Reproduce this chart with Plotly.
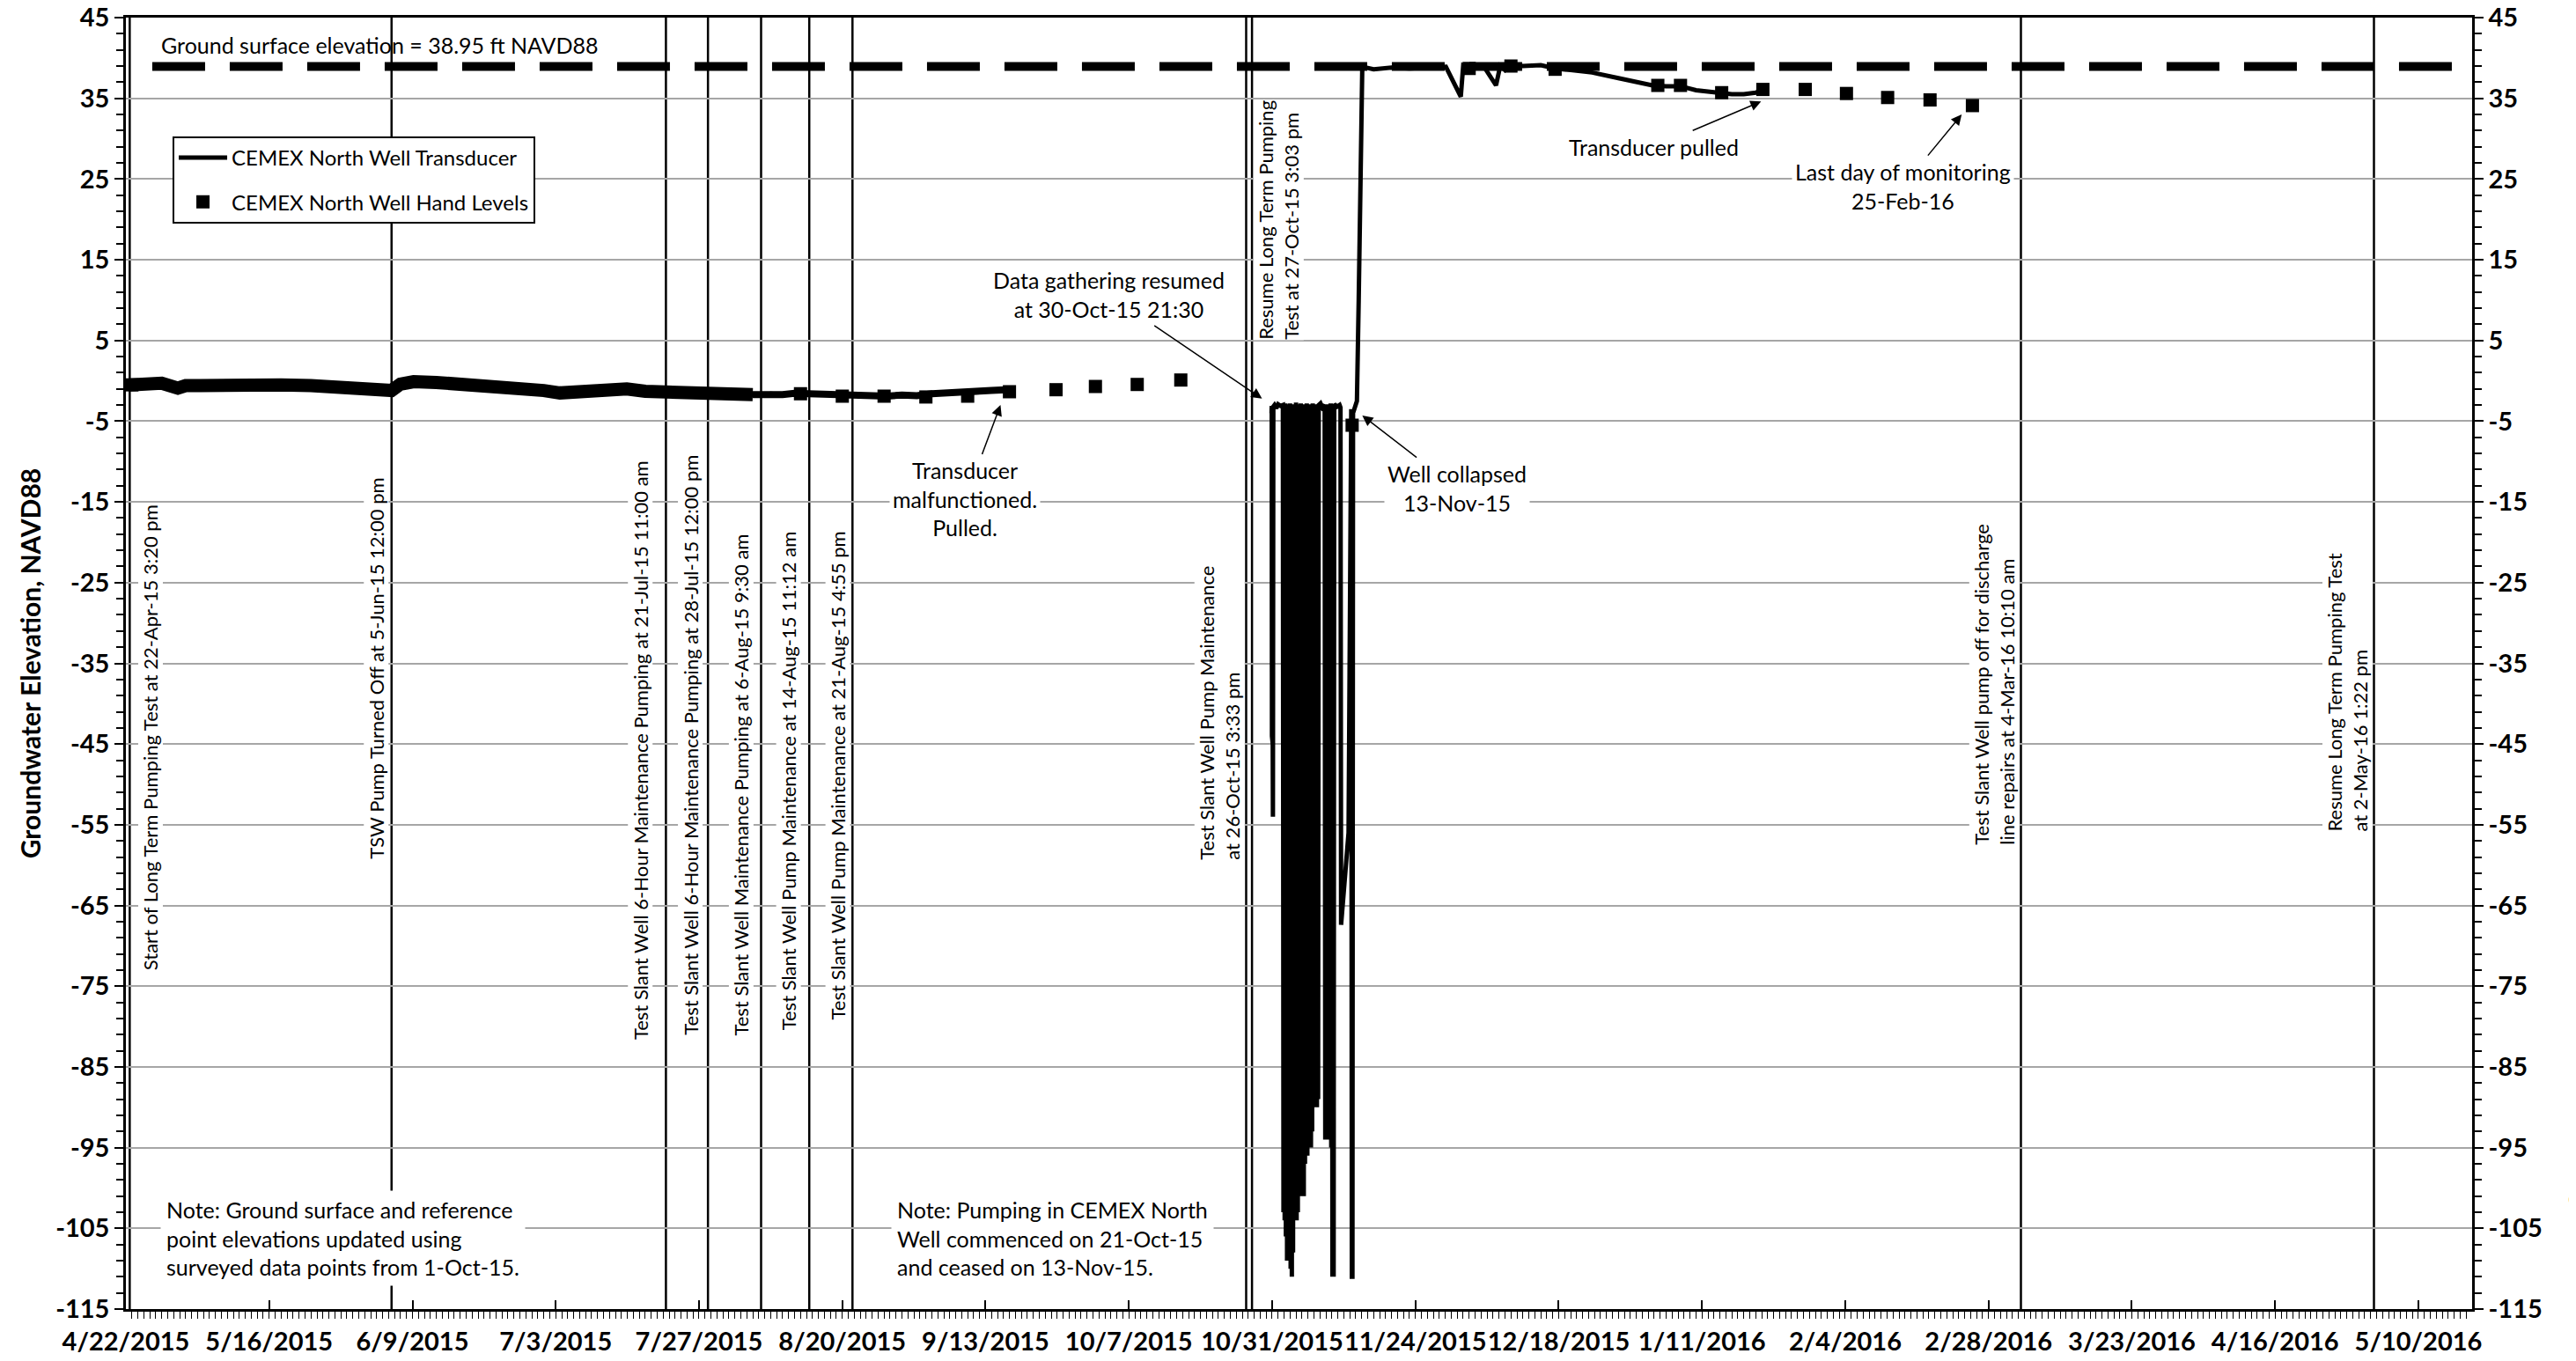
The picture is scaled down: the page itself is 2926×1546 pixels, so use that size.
import plotly.graph_objects as go
import pandas as pd

# ---------------- data (days are counted from 22-Apr-2015 00:00) ----------------
BASE = pd.Timestamp("2015-04-22 00:00")

# CEMEX North Well transducer, period 1 (thick noisy band)
tr1a_days = [0.64, 3, 6, 8.7, 10, 12.5, 16, 20, 23, 26, 31, 36, 40.7, 44.5, 46, 48.2, 52, 56,
             59.6, 63, 67, 70, 72.7, 75, 78, 80.2, 83.9, 87, 90.5, 94, 97.1, 101, 105]
tr1a_vals = [-0.5, -0.4, -0.3, -0.9, -0.6, -0.6, -0.5, -0.4, -0.25, -0.5, -0.6, -0.7, -0.9, -1.2,
             -0.4, -0.1, -0.2, -0.35, -0.45, -0.6, -0.8, -1.2, -1.5, -1.4, -1.0, -0.9, -1.0, -1.3,
             -1.45, -1.5, -1.5, -1.6, -1.7]
tr1b_days = [105, 106.6, 108, 110, 112, 114.1, 117, 120.6, 123, 125, 127.5, 130, 132.5, 135,
             137.5, 140.3, 143, 145, 147.4]
tr1b_vals = [-1.7, -1.75, -1.6, -1.7, -1.55, -1.6, -1.7, -1.9, -1.75, -1.8, -1.9, -1.75, -1.85,
             -1.6, -1.55, -1.45, -1.4, -1.2, -1.1]

# period 2: pumping cycles after data gathering resumed (30-Oct-15 21:30)
tr2_days = [191.90, 191.93, 191.97, 192.10, 192.13, 192.20, 192.40, 192.70, 193.00, 193.40, 193.80,
            193.90, 194.00, 194.10, 194.20, 194.30, 194.40, 194.50, 194.60, 194.70, 194.80,
            194.90, 195.00, 195.10, 195.20, 195.30, 195.40, 195.50, 195.60, 195.70, 195.80,
            195.90, 196.00, 196.10, 196.20, 196.30, 196.40, 196.50, 196.60, 196.70, 196.80,
            196.90, 197.00, 197.10, 197.20, 197.30, 197.40, 197.50, 197.60, 197.70, 197.80,
            197.90, 198.00, 198.10, 198.20, 198.30, 198.40, 198.50, 198.60, 198.70, 198.80,
            198.90, 199.00, 199.10, 199.20, 199.30, 199.40, 199.50, 199.60, 199.70, 199.80,
            200.10, 200.40, 200.80,
            200.90, 201.00, 201.10, 201.20, 201.30, 201.40, 201.50, 201.60, 201.70, 201.80,
            201.90, 202.00, 202.10, 202.20, 202.30, 202.40, 202.45, 202.55,
            202.90, 203.30, 203.45, 203.55, 204.80, 205.00, 205.15, 205.25, 205.35, 205.45,
            205.55, 205.90, 206.20,
            206.50, 206.80, 207.10, 209, 212, 215, 218, 221.1, 223.6, 224.0, 225, 226, 227.5,
            229.5, 230.2, 231, 232, 234, 237, 239.4, 242, 245.6, 250, 255.7, 258, 260.4, 263,
            266.8, 269, 271, 273, 274.2]
tr2_vals = [-4.0, -3.1, -44.0, -45.0, -54.0, -3.2, -3.0, -3.4, -2.9, -3.1, -3.0,
            -103, -3.0, -104, -2.8, -106, -3.2, -109, -2.9, -109, -3.1,
            -108, -2.8, -110, -3.0, -111, -3.3, -108, -2.9, -104, -3.0,
            -104, -2.7, -104, -3.1, -103, -2.9, -101, -3.2, -101, -2.8,
            -101, -3.0, -101, -3.1, -101, -2.9, -97, -3.0, -96, -2.8,
            -96, -3.2, -95, -2.9, -95, -3.0, -95, -3.1, -93, -2.8,
            -90, -3.0, -90, -3.2, -90, -2.9, -90, -3.0, -89, -3.0,
            -2.8, -3.3, -3.0,
            -94, -3.0, -94, -2.9, -94, -3.1, -94, -3.0, -94, -2.8,
            -95, -3.0, -111, -3.1, -111, -2.9, -111, -3.0,
            -3.2, -3.0, -3.3, -67.4, -56.0, -30.0, -4.5, -3.5, -111, -111,
            -4.0, -3.0, -2.5,
            10, 30, 38.9, 38.6, 38.8, 38.7, 38.8, 38.9, 35.2, 39.0, 38.5, 39.0, 38.9,
            36.6, 39.0, 38.5, 39.2, 39.0, 39.1, 38.7, 38.5, 38.2, 37.5, 36.6, 36.5, 36.5, 36.0,
            35.6, 35.5, 35.5, 35.7, 36.1]

# CEMEX North Well hand levels
hand_days = [1, 113, 120, 127, 134, 141, 148, 155.8, 162.4, 169.4, 176.7, 205.4,
             225, 232, 239.4, 256.6, 260.4, 267.3, 274.2, 281.3, 288.2, 295.1, 302.2, 309.3]
hand_vals = [-0.5, -1.6, -1.9, -1.9, -2.0, -1.9, -1.35, -1.1, -0.7, -0.45, 0.1, -5.5,
             38.7, 39.0, 38.6, 36.6, 36.6, 35.7, 36.1, 36.1, 35.6, 35.1, 34.8, 34.1]

# ground surface elevation
ground_elev = 38.95
ground_dates = ["2015-04-26 10:00", "2016-05-19 00:00"]

# event markers (vertical lines)
event_times = ["2015-04-22 15:20", "2015-06-05 12:00", "2015-07-21 11:00", "2015-07-28 12:00",
               "2015-08-06 09:30", "2015-08-14 11:12", "2015-08-21 16:55", "2015-10-26 15:33",
               "2015-10-27 15:03", "2016-03-04 10:10", "2016-05-02 13:22"]
event_labels = [
    "Start of Long Term Pumping Test at 22-Apr-15 3:20 pm",
    "TSW Pump Turned Off at 5-Jun-15 12:00 pm",
    "Test Slant Well 6-Hour Maintenance Pumping at 21-Jul-15 11:00 am",
    "Test Slant Well 6-Hour Maintenance Pumping at 28-Jul-15 12:00 pm",
    "Test Slant Well Maintenance Pumping at 6-Aug-15 9:30 am",
    "Test Slant Well Pump Maintenance at 14-Aug-15 11:12 am",
    "Test Slant Well Pump Maintenance at 21-Aug-15 4:55 pm",
    "Test Slant Well Pump Maintenance<br>at 26-Oct-15 3:33 pm",
    "Resume Long Term Pumping<br>Test at 27-Oct-15 3:03 pm",
    "Test Slant Well pump off for discharge<br>line repairs at 4-Mar-16 10:10 am",
    "Resume Long Term Pumping Test<br>at 2-May-16 1:22 pm",
]

x_range = ["2015-04-22", "2016-05-19"]
y_range = [-115, 45]
y_tickvals = [-115, -105, -95, -85, -75, -65, -55, -45, -35, -25, -15, -5, 5, 15, 25, 35, 45]
y_ticktext = ["-115", "-105", "-95", "-85", "-75", "-65", "-55", "-45", "-35", "-25", "-15",
              "-5", "5", "15", "25", "35", "45"]


def when(days):
    return [BASE + pd.Timedelta(days=d) for d in days]


FONT = "Lato, Carlito, Calibri, sans-serif"

fig = go.Figure()

# ground surface dashed line (on right axis, identical scale)
fig.add_trace(go.Scatter(x=pd.to_datetime(ground_dates), y=[ground_elev, ground_elev],
                         mode="lines", yaxis="y2", showlegend=False, hoverinfo="skip",
                         line=dict(color="black", width=10, dash="60px,28px")))

# transducer (full)
tx = when(tr1a_days) + when(tr1b_days[1:]) + [None] + when(tr2_days)
ty = tr1a_vals + tr1b_vals[1:] + [None] + tr2_vals
fig.add_trace(go.Scatter(x=tx, y=ty, mode="lines", name="CEMEX North Well Transducer",
                         legendgroup="a", line=dict(color="black", width=5)))
# noisy band thickness of period 1
fig.add_trace(go.Scatter(x=when(tr1a_days), y=tr1a_vals, mode="lines", showlegend=False,
                         hoverinfo="skip", line=dict(color="black", width=15)))
fig.add_trace(go.Scatter(x=when(tr1b_days), y=tr1b_vals, mode="lines", showlegend=False,
                         hoverinfo="skip", line=dict(color="black", width=8)))

# hand levels
fig.add_trace(go.Scatter(x=when(hand_days), y=hand_vals, mode="markers",
                         name="CEMEX North Well Hand Levels", legendgroup="b",
                         marker=dict(symbol="square", size=15, color="black")))

# event lines
shapes = []
for t in event_times:
    shapes.append(dict(type="line", xref="x", yref="paper", x0=t, x1=t, y0=0, y1=1,
                       layer="below", line=dict(color="black", width=2.5)))

annotations = []
# event labels: (xshift px, y value, yanchor)
label_pos = [(24, -44.2, "middle"), (-18, -35.6, "middle"), (-29, -81.7, "bottom"),
             (-20, -81.2, "bottom"), (-23, -81.2, "bottom"), (-24, -80.6, "bottom"),
             (-17, -79.3, "bottom"), (-30, -59.4, "bottom"), (30, 5.0, "bottom"),
             (-30, -57.6, "bottom"), (-30, -56.0, "bottom")]
for t, txt, (xs, yv, ya) in zip(event_times, event_labels, label_pos):
    annotations.append(dict(x=t, y=yv, xref="x", yref="y", text=txt, showarrow=False,
                            textangle=-90, xshift=xs, yanchor=ya, xanchor="center",
                            align="left", bgcolor="white", borderpad=0,
                            font=dict(family=FONT, size=22, color="black")))


def arrow_note(text, head_day, head_v, text_day, text_v):
    return dict(x=BASE + pd.Timedelta(days=head_day), y=head_v, xref="x", yref="y",
                ax=BASE + pd.Timedelta(days=text_day), ay=text_v, axref="x", ayref="y",
                text=text, showarrow=True, arrowhead=2, arrowsize=1.6, arrowwidth=1.5,
                arrowcolor="black", bgcolor="white", borderpad=3,
                font=dict(family=FONT, size=25, color="black"))


annotations += [
    arrow_note("Transducer<br>malfunctioned.<br>Pulled.", 146.5, -3.0, 140.6, -14.65),
    arrow_note("Data gathering resumed<br>at 30-Oct-15 21:30", 190.3, -2.2, 164.65, 10.65),
    arrow_note("Well collapsed<br>13-Nov-15", 207.1, -4.3, 222.9, -13.3),
    arrow_note("Transducer pulled", 273.9, 34.6, 256.0, 29.0),
    arrow_note("Last day of monitoring<br>25-Feb-16", 307.5, 33.0, 297.6, 24.1),
]

# plain text notes
annotations += [
    dict(x=BASE + pd.Timedelta(days=5.6), y=41.65, xref="x", yref="y", xanchor="left",
         text="Ground surface elevation = 38.95 ft NAVD88", showarrow=False,
         font=dict(family=FONT, size=25, color="black")),
    dict(x=BASE + pd.Timedelta(days=5.75), y=-106.25, xref="x", yref="y", xanchor="left",
         text="Note: Ground surface and reference<br>point elevations updated using<br>surveyed data points from 1-Oct-15.",
         align="left", showarrow=False, bgcolor="white", borderpad=6,
         font=dict(family=FONT, size=25, color="black")),
    dict(x=BASE + pd.Timedelta(days=128.1), y=-106.25, xref="x", yref="y", xanchor="left",
         text="Note: Pumping in CEMEX North<br>Well commenced on 21-Oct-15<br>and ceased on 13-Nov-15.",
         align="left", showarrow=False, bgcolor="white", borderpad=6,
         font=dict(family=FONT, size=25, color="black")),
    dict(x=-0.041, y=0.5, xref="paper", yref="paper", text="Groundwater Elevation, NAVD88",
         textangle=-90, showarrow=False, xanchor="center", yanchor="middle",
         font=dict(family=FONT, size=30, color="black", weight="bold")),
    dict(x=1.0473, y=0.0559, xref="paper", yref="paper", text="Figure 2-11",
         textangle=90, showarrow=False, xanchor="center", yanchor="middle",
         font=dict(family=FONT, size=28, color="black", weight="bold")),
]

tickfont = dict(family=FONT, size=29, color="black", weight="bold")
yaxis_common = dict(range=y_range, tickmode="array", tickvals=y_tickvals, ticktext=y_ticktext,
                    ticks="outside", ticklen=10, automargin=False, ticklabeloverflow="allow",
                    tickwidth=2, tickcolor="black", showline=True, linecolor="black",
                    linewidth=2.5, tickfont=tickfont, zeroline=False,
                    minor=dict(dtick=2, tick0=-115, ticks="outside", ticklen=8, tickwidth=1.5,
                               tickcolor="black", showgrid=False))

# the page body adds an 8 px offset, so the figure is 8 px smaller and margins compensate
fig.update_layout(
    width=2918, height=1538,
    margin=dict(l=135, r=118, t=12, b=59, autoexpand=False),
    paper_bgcolor="white", plot_bgcolor="white",
    showlegend=True,
    legend=dict(x=0.0199, y=0.908, xanchor="left", yanchor="top", bgcolor="white",
                bordercolor="black", borderwidth=2, itemwidth=55, tracegroupgap=16,
                font=dict(family=FONT, size=24, color="black")),
    xaxis=dict(type="date", range=x_range, tick0="2015-04-22", dtick=24 * 86400000,
               tickformat="%-m/%-d/%Y", ticks="inside", ticklen=10, tickwidth=2,
               tickangle=0, automargin=False, ticklabeloverflow="allow",
               tickcolor="black", showline=True, linecolor="black", linewidth=2.5,
               mirror=True, showgrid=False, tickfont=tickfont, ticklabelstandoff=9,
               minor=dict(dtick=86400000, ticks="outside", ticklen=8, tickwidth=1.2,
                          tickcolor="black", showgrid=False)),
    yaxis=dict(side="left", showgrid=True, gridcolor="#a6a6a6", gridwidth=2,
               **yaxis_common),
    yaxis2=dict(side="right", overlaying="y", matches="y", showgrid=False,
                **yaxis_common),
    shapes=shapes,
    annotations=annotations,
)

fig.write_html("out.html")
